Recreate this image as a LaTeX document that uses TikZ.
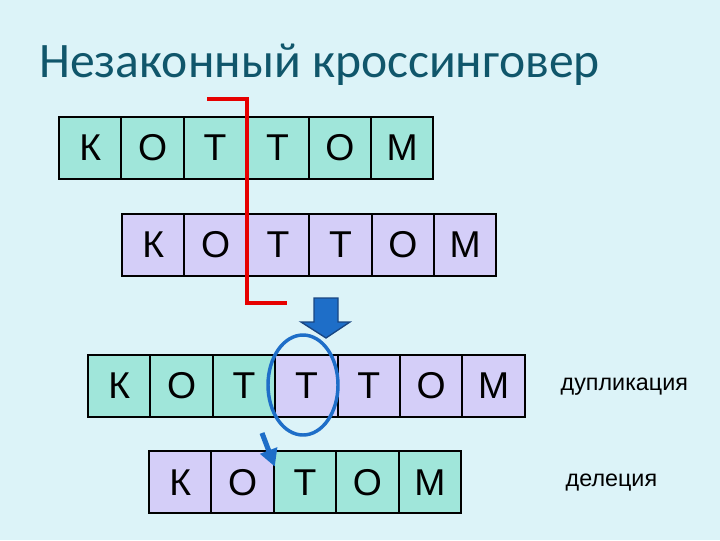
\documentclass[tikz,border=0pt]{standalone}
\usepackage{fontspec}
\setmainfont{Liberation Sans}
\newfontfamily\titlefont{Carlito}
\usetikzlibrary{calc,positioning,shapes.geometric,arrows.meta}

\definecolor{bgcol}{RGB}{220,243,248}
\definecolor{titlecol}{RGB}{16,86,107}
\definecolor{cellgreen}{RGB}{160,230,218}
\definecolor{cellviolet}{RGB}{212,206,248}
\definecolor{markblue}{RGB}{30,110,200}
\definecolor{markedge}{RGB}{25,70,130}
\definecolor{cutred}{RGB}{230,0,0}

\tikzset{
	letter/.style={draw=black, line width=1.5pt, minimum width=46.8pt, minimum height=46.5pt,
		inner sep=0pt, text height=20pt, text depth=0pt, font=\fontsize{28}{28}\selectfont},
	gcell/.style={letter, fill=cellgreen},
	vcell/.style={letter, fill=cellviolet},
	cutline/.style={draw=cutred, line width=3pt},
	note/.style={anchor=west, font=\fontsize{17.5}{17.5}\selectfont}
}

\begin{document}
\begin{tikzpicture}[x=0.75pt, y=-0.75pt]
	\fill[bgcol] (0,0) rectangle (720,540);
	\useasboundingbox (0,0) rectangle (720,540);

	\node[anchor=base west, text=titlecol, inner sep=0pt, font=\titlefont\fontsize{37.2}{37.2}\selectfont]
		(title) at (39,77) {Незаконный кроссинговер};

	% first chromatid
	\node[gcell] (a1) at (90.2, 147.5) {К};
	\node[gcell] (a2) at (152.6, 147.5) {О};
	\node[gcell] (a3) at (215, 147.5) {Т};
	\node[gcell] (a4) at (277.4, 147.5) {Т};
	\node[gcell] (a5) at (339.8, 147.5) {О};
	\node[gcell] (a6) at (402.2, 147.5) {М};

	% second chromatid, shifted by one letter
	\node[vcell] (b1) at (153.2, 244.5) {К};
	\node[vcell] (b2) at (215.6, 244.5) {О};
	\node[vcell] (b3) at (278, 244.5) {Т};
	\node[vcell] (b4) at (340.4, 244.5) {Т};
	\node[vcell] (b5) at (402.8, 244.5) {О};
	\node[vcell] (b6) at (465.2, 244.5) {М};

	% break point
	\coordinate (cutA) at (207, 99);
	\coordinate (cutB) at (287, 303);
	\draw[cutline] (cutA) -| (a3.east |- cutB) -- (cutB);

	% block arrow
	\fill[markblue, draw=markedge, line width=1pt] (314,298) -- (338,298) -- (338,322) -- (350,322)
		-- (326,338) -- (301,322) -- (314,322) -- cycle;

	% result: duplication
	\node[gcell] (c1) at (119.2, 385.5) {К};
	\node[gcell] (c2) at (181.6, 385.5) {О};
	\node[gcell] (c3) at (244, 385.5) {Т};
	\node[vcell] (c4) at (306.4, 385.5) {Т};
	\node[vcell] (c5) at (368.8, 385.5) {Т};
	\node[vcell] (c6) at (431.2, 385.5) {О};
	\node[vcell] (c7) at (493.6, 385.5) {М};
	\node[ellipse, draw=markblue, line width=2.6pt, minimum width=52.5pt, minimum height=75pt,
		inner sep=0pt] (dup) at (303, 385) {};

	% result: deletion
	\node[vcell] (d1) at (180.2, 482) {К};
	\node[vcell] (d2) at (242.6, 482) {О};
	\node[gcell] (d3) at (305, 482) {Т};
	\node[gcell] (d4) at (367.4, 482) {О};
	\node[gcell] (d5) at (429.8, 482) {М};
	\coordinate (delfrom) at (262, 433);
	\draw[markblue, line width=3.8pt, -{Triangle[length=13pt, width=13pt]}]
		(delfrom) -- ([yshift=-12.5pt]d2.north east);

	\node[note] (dupl) at (556, 387) {дупликация};
	\node[note] (dele) at (561, 483) {делеция};
\end{tikzpicture}
\end{document}
